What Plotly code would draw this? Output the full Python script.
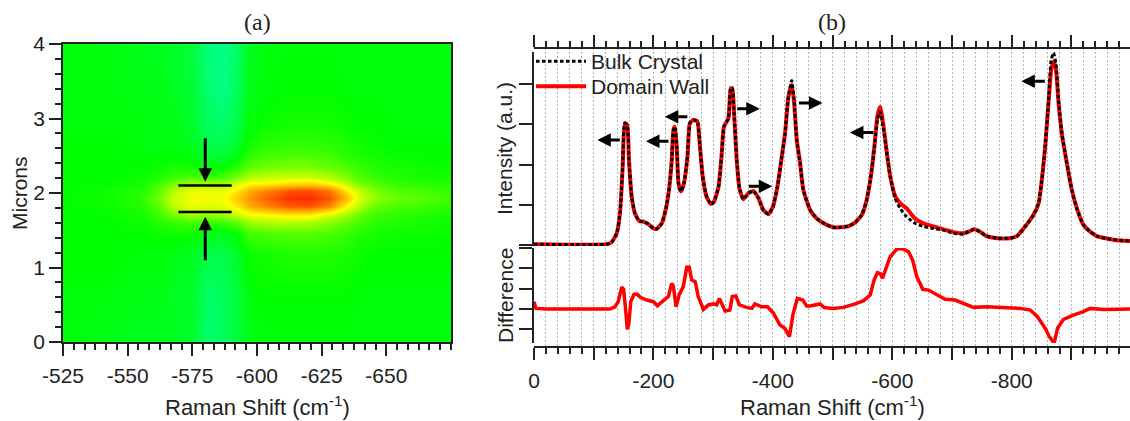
import plotly.graph_objects as go

W, H = 1130, 421
# ---------- panel (a) map ----------
map_shift = [-525,-540,-555,-562,-568,-575,-581,-587,-592,-597,-603,-612,-620,-628,-635,-640,-646,-655,-665,-675]
map_microns = [0,0.6,1.2,1.45,1.6,1.72,1.82,1.93,2.03,2.12,2.22,2.35,2.55,2.9,3.4,4]
map_values = [
 [.49,.48,.47,.47,.47,.46,.39,.41,.44,.48,.49,.49,.49,.49,.49,.49,.49,.49,.49,.49],
 [.49,.49,.48,.48,.47,.46,.40,.41,.44,.49,.50,.50,.50,.50,.50,.49,.49,.49,.49,.49],
 [.50,.50,.49,.49,.48,.47,.43,.43,.46,.51,.52,.53,.53,.53,.52,.51,.50,.50,.50,.50],
 [.50,.50,.50,.51,.51,.51,.48,.47,.50,.56,.57,.58,.58,.57,.55,.53,.52,.51,.51,.50],
 [.50,.50,.51,.53,.55,.56,.54,.55,.58,.64,.66,.67,.66,.63,.59,.56,.54,.53,.52,.51],
 [.50,.50,.52,.56,.62,.66,.65,.66,.70,.75,.76,.78,.78,.73,.66,.60,.56,.54,.53,.52],
 [.50,.51,.53,.59,.69,.73,.72,.73,.77,.83,.87,.91,.92,.87,.75,.67,.60,.57,.56,.54],
 [.50,.51,.54,.61,.70,.74,.74,.74,.80,.85,.90,.95,.96,.92,.81,.71,.64,.60,.58,.56],
 [.50,.51,.53,.59,.69,.73,.73,.73,.77,.83,.87,.92,.93,.89,.77,.69,.62,.58,.57,.55],
 [.50,.50,.52,.56,.62,.66,.66,.66,.71,.76,.77,.79,.80,.77,.68,.62,.58,.55,.54,.53],
 [.50,.50,.51,.53,.56,.57,.55,.57,.61,.67,.69,.70,.70,.67,.62,.57,.55,.53,.52,.52],
 [.50,.50,.50,.51,.52,.52,.49,.50,.54,.59,.61,.62,.62,.60,.57,.55,.53,.52,.51,.51],
 [.50,.50,.49,.49,.49,.48,.44,.44,.47,.53,.55,.56,.56,.55,.53,.52,.51,.50,.50,.50],
 [.49,.49,.49,.48,.48,.46,.41,.40,.43,.49,.51,.52,.52,.52,.51,.50,.50,.49,.49,.49],
 [.49,.49,.48,.48,.47,.45,.39,.37,.41,.48,.49,.50,.50,.50,.49,.49,.49,.49,.49,.49],
 [.49,.49,.48,.47,.46,.44,.38,.37,.40,.47,.49,.49,.49,.49,.49,.49,.49,.49,.49,.49],
]
marker_lines_y = [2.10, 1.745]
marker_lines_x = [-569.6, -590.2]
a_x_ticks = [-525,-550,-575,-600,-625,-650]

# ---------- panel (b) spectra ----------
shift = [0,-122,-130,-138.5,-144,-148.5,-152,-156,-159,-163.6,-169,-176,-183,-191.5,-200,-205.5,-214,-221,-226.7,-230.6,
 -233.4,-236,-239,-242,-246,-251,-257,-261,-267,-273.6,-277,-282.5,-289,-296,-301.5,-309,-314,-318,-325.5,-329.4,-332,
 -335,-339.5,-344,-350.6,-359,-367.4,-376,-384,-392.5,-400,-407.6,-415,-420.4,-426,-431.6,-435.5,-440,-445.6,-451,-462.4,
 -473.5,-487.5,-501.4,-512.6,-526.6,-537.7,-549,-557,-564,-569.6,-575,-579.6,-585,-590.8,-596.4,-604.7,-613,-624,-638,
 -652,-669,-685.7,-702.4,-719,-727.6,-737,-747,-758,-775,-797,-808.5,-822.5,-836.5,-845,-850.4,-856,-861.6,-866,-870,
 -873.8,-878.3,-884,-892.3,-900.6,-909,-920,-931.4,-942.5,-959,-976,-998]
bulk = [.02,.02,.07,.29,.79,1.95,3.03,2.99,2.11,1.20,.79,.60,.58,.52,.41,.40,.54,.91,1.45,2.11,
 2.86,2.94,2.45,1.53,1.33,1.53,2.20,3.03,3.11,3.07,2.61,1.70,1.20,1.02,1.08,1.45,2.20,2.94,3.15,3.90,3.90,
 3.28,2.11,1.41,1.14,1.29,1.34,1.16,.87,.77,.95,1.45,2.20,2.78,3.69,4.09,3.60,2.61,2.03,1.37,.87,
 .66,.52,.44,.44,.47,.56,.75,1.12,1.70,2.36,3.11,3.32,2.90,2.28,1.70,1.16,.91,.70,.54,
 .46,.41,.37,.29,.27,.33,.39,.33,.22,.17,.17,.22,.46,.75,1.04,1.62,2.45,3.60,4.60,4.78,
 4.52,3.60,2.78,2.03,1.37,.91,.50,.33,.22,.16,.12,.10]
wall = [.02,.02,.07,.29,.79,1.95,3.03,2.99,2.11,1.20,.79,.60,.58,.52,.41,.40,.54,.91,1.45,2.11,
 2.86,2.94,2.45,1.53,1.33,1.53,2.20,3.03,3.11,3.07,2.61,1.70,1.20,1.02,1.08,1.45,2.20,2.94,3.15,3.90,3.90,
 3.28,2.11,1.41,1.14,1.29,1.34,1.16,.87,.77,.95,1.45,2.20,2.78,3.69,3.98,3.55,2.61,2.03,1.37,.87,
 .66,.52,.44,.44,.47,.56,.75,1.12,1.70,2.40,3.20,3.44,2.99,2.30,1.72,1.22,1.04,.91,.66,
 .54,.46,.39,.32,.29,.33,.39,.33,.22,.17,.17,.22,.46,.75,1.04,1.62,2.45,3.55,4.35,4.56,
 4.40,3.55,2.75,2.03,1.37,.91,.50,.33,.22,.16,.12,.10]
diff_shift = [0,-3.4,-21,-127,-135.7,-141,-147,-150,-153,-156.3,-159,-162,-167.5,-173,-178.7,-188.7,-200,-206.6,-216.6,-225,
 -230.6,-233.4,-237.9,-243,-250,-255.7,-260,-264,-270,-275,-283.6,-292,-300,-306,-310.4,-316,-320,-328,-332,-338,-344,
 -356,-364.6,-370,-381,-391,-401,-412,-420,-427.7,-434,-441,-450,-456.7,-462.4,-479,-486,-501,-518,-538,-552,-563,
 -569.6,-575,-579.6,-583.5,-589.6,-596.4,-607.5,-616,-627,-634,-641,-651,-660.6,-671.7,-688.5,-705,-722,-736,-758,
 -780.6,-814,-830.9,-843,-856,-863,-871,-876.6,-886.7,-903,-920,-931,-953.7,-976,-998]
difference = [.36,.03,0,0,.11,.36,1.07,.97,.11,-1,-.7,.36,.72,.72,.56,.44,.36,.16,.41,.61,
 1.26,1.1,.11,.69,1.1,2.05,2.05,1.43,1.34,.61,-.02,.2,.25,.2,.52,.2,-.1,-.05,.61,.64,.2,
 .08,.03,.25,.11,.11,-.21,-.79,-.95,-1.36,-.21,.52,.44,.15,.15,.25,.07,.03,.08,.25,.41,.69,
 1.43,1.79,1.75,1.51,2,2.57,2.95,2.98,2.82,2.41,1.59,.97,.93,.74,.48,.44,.25,.08,.11,
 .07,.03,-.05,-.38,-.95,-1.36,-1.69,-.95,-.51,-.3,-.13,.03,-.02,0,0]

# arrows: head x, head y, pixel offset of tail
b_arrows = [(-106,2.61,24,0),(-187.5,2.58,24,0),(-219,3.19,24,0),(-378,3.39,-24,0),(-399,1.46,-25,0),
            (-483,3.53,-25,0),(-529,2.80,25,0),(-816,4.07,25,0)]
a_arrows = [(-580,2.15,0,-45),(-580,1.68,0,45)]

X_RANGE_B = [0, -998]
TEXT = "#222222"
SANS = "Liberation Sans"
def px(v): return v / W
def py(v): return (H - v) / H

fig = go.Figure()
scale = [[0,"#0000ff"],[.25,"#00ffff"],[.5,"#00ff00"],[.75,"#ffff00"],[1,"#ff0000"]]
fig.add_trace(go.Heatmap(x=map_shift, y=map_microns, z=map_values, zmin=0, zmax=1, colorscale=scale,
                         zsmooth="best", showscale=False, xaxis="x", yaxis="y"))
for yv in marker_lines_y:
    fig.add_trace(go.Scatter(x=marker_lines_x, y=[yv, yv], mode="lines", line=dict(color="black", width=2.5),
                             showlegend=False, xaxis="x", yaxis="y"))
# grid holder
fig.add_trace(go.Scatter(x=X_RANGE_B, y=[0, 1], mode="lines", line=dict(width=0), showlegend=False,
                         hoverinfo="skip", xaxis="x2", yaxis="y2"))
fig.add_trace(go.Scatter(x=shift, y=wall, mode="lines", name="Domain Wall", cliponaxis=False, legend="legend2",
                         line=dict(color="#ff0000", width=4, shape="spline", smoothing=0.5), xaxis="x3", yaxis="y3"))
fig.add_trace(go.Scatter(x=shift, y=bulk, mode="lines", name="Bulk Crystal", cliponaxis=False, legend="legend",
                         line=dict(color="black", width=3, dash="3.5px,2.5px", shape="spline", smoothing=0.5), xaxis="x3", yaxis="y3"))
fig.add_trace(go.Scatter(x=diff_shift, y=difference, mode="lines", showlegend=False, cliponaxis=False,
                         line=dict(color="#ff0000", width=3.5), xaxis="x4", yaxis="y4"))

annots = []
for x, y, ax, ay in b_arrows:
    annots.append(dict(x=x, y=y, xref="x3", yref="y3", ax=ax, ay=ay, showarrow=True, arrowhead=2,
                       arrowsize=0.9, arrowwidth=3, arrowcolor="black", text=""))
for x, y, ax, ay in a_arrows:
    annots.append(dict(x=x, y=y, xref="x", yref="y", ax=ax, ay=ay, showarrow=True, arrowhead=2,
                       arrowsize=0.9, arrowwidth=3, arrowcolor="black", text=""))
serif = dict(family="Liberation Serif", size=24, color=TEXT)
title_font = dict(family=SANS, size=22, color=TEXT)
side_font = dict(family=SANS, size=21, color=TEXT)
def label(x, y, text, font, angle=0):
    annots.append(dict(x=px(x), y=py(y), xref="paper", yref="paper", text=text, showarrow=False,
                       font=font, textangle=angle, xanchor="center", yanchor="middle"))
label(257, 22, "(a)", serif)
label(832, 22, "(b)", serif)
label(257, 406, "Raman Shift (cm<sup>-1</sup>)", title_font)
label(832, 406, "Raman Shift (cm<sup>-1</sup>)", title_font)
label(19, 193, "Microns", side_font, -90)
label(505, 148, "Intensity (a.u.)", side_font, -90)
label(505, 295, "Difference", side_font, -90)

tick_font = dict(family=SANS, size=21, color=TEXT)
AX = "#222222"
major_b = [-100 * i for i in range(10)]
labels_b = [str(v) if v % 200 == 0 else "" for v in major_b]
legend_common = dict(xanchor="left", yanchor="top", itemwidth=50, bgcolor="rgba(0,0,0,0)",
                     font=dict(family=SANS, size=21, color=TEXT))

fig.update_layout(
    width=W, height=H, margin=dict(l=0, r=0, t=0, b=0), paper_bgcolor="white", plot_bgcolor="rgba(0,0,0,0)",
    font=dict(family=SANS, color=TEXT), annotations=annots,
    legend=dict(x=px(531), y=py(41), **legend_common),
    legend2=dict(x=px(531), y=py(66), **legend_common),
    xaxis=dict(domain=[px(63), px(451)], range=[-525, -675], tickmode="array",
               tickvals=a_x_ticks, ticktext=[str(v) for v in a_x_ticks], ticks="outside", ticklen=12, tickwidth=1.5, tickcolor=AX,
               minor=dict(dtick=25/6, tick0=-525, ticks="outside", ticklen=6, tickwidth=1.5, tickcolor=AX),
               showline=True, linecolor=AX, linewidth=1.5, mirror=True, showgrid=False, zeroline=False,
               tickfont=tick_font, ticklabelstandoff=2, anchor="y", automargin=False),
    yaxis=dict(domain=[py(342), py(44)], range=[0, 4], tickvals=[0,1,2,3,4], ticks="outside", ticklen=12, tickwidth=1.5,
               tickcolor=AX, minor=dict(dtick=0.2, ticks="outside", ticklen=6, tickwidth=1.5, tickcolor=AX),
               showline=True, linecolor=AX, linewidth=1.5, mirror=True, showgrid=False, zeroline=False,
               tickfont=tick_font, anchor="x", automargin=False),
    xaxis2=dict(domain=[px(534), 1], range=X_RANGE_B, showticklabels=False, ticks="", showline=False, zeroline=False,
                showgrid=True, dtick=20, tick0=0, griddash="2px,2px", gridcolor="#b4b4b4", gridwidth=1, anchor="y2", automargin=False),
    yaxis2=dict(domain=[py(347), py(48)], range=[0, 1], visible=False, anchor="x2", automargin=False),
    xaxis3=dict(domain=[px(534), 1], range=X_RANGE_B, side="top", anchor="free", position=py(47.7),
                tickmode="array", tickvals=major_b, showticklabels=False, ticks="outside", ticklen=12, tickwidth=2,
                tickcolor=AX, minor=dict(dtick=20, tick0=0, ticks="outside", ticklen=6, tickwidth=2, tickcolor=AX),
                showline=True, linecolor=AX, linewidth=2, showgrid=False, zeroline=False, automargin=False),
    yaxis3=dict(domain=[py(246), py(52)], range=[-0.025, 4.8], tickvals=[0,1,2,3,4], showticklabels=False, ticks="outside",
                ticklen=13, tickwidth=2, tickcolor=AX, showline=True, linecolor=AX, linewidth=2, showgrid=False,
                zeroline=False, anchor="x3", automargin=False),
    xaxis4=dict(domain=[px(534), 1], range=X_RANGE_B, side="bottom", anchor="free", position=py(347),
                tickmode="array", tickvals=major_b, ticktext=labels_b, ticks="outside", ticklen=12, tickwidth=2,
                tickcolor=AX, minor=dict(dtick=20, tick0=0, ticks="outside", ticklen=6, tickwidth=2, tickcolor=AX),
                showline=True, linecolor=AX, linewidth=2, showgrid=False, zeroline=False, tickfont=tick_font,
                ticklabelstandoff=3, automargin=False),
    yaxis4=dict(domain=[py(343), py(248)], range=[-1.672, 3], tickvals=[-1,0,1,2,3], showticklabels=False, ticks="outside",
                ticklen=13, tickwidth=2, tickcolor=AX, showline=True, linecolor=AX, linewidth=2, showgrid=False,
                zeroline=False, anchor="x4", automargin=False),
)
fig.write_html("out.html", post_script="document.body.style.margin='0';", config={"displayModeBar": False})
